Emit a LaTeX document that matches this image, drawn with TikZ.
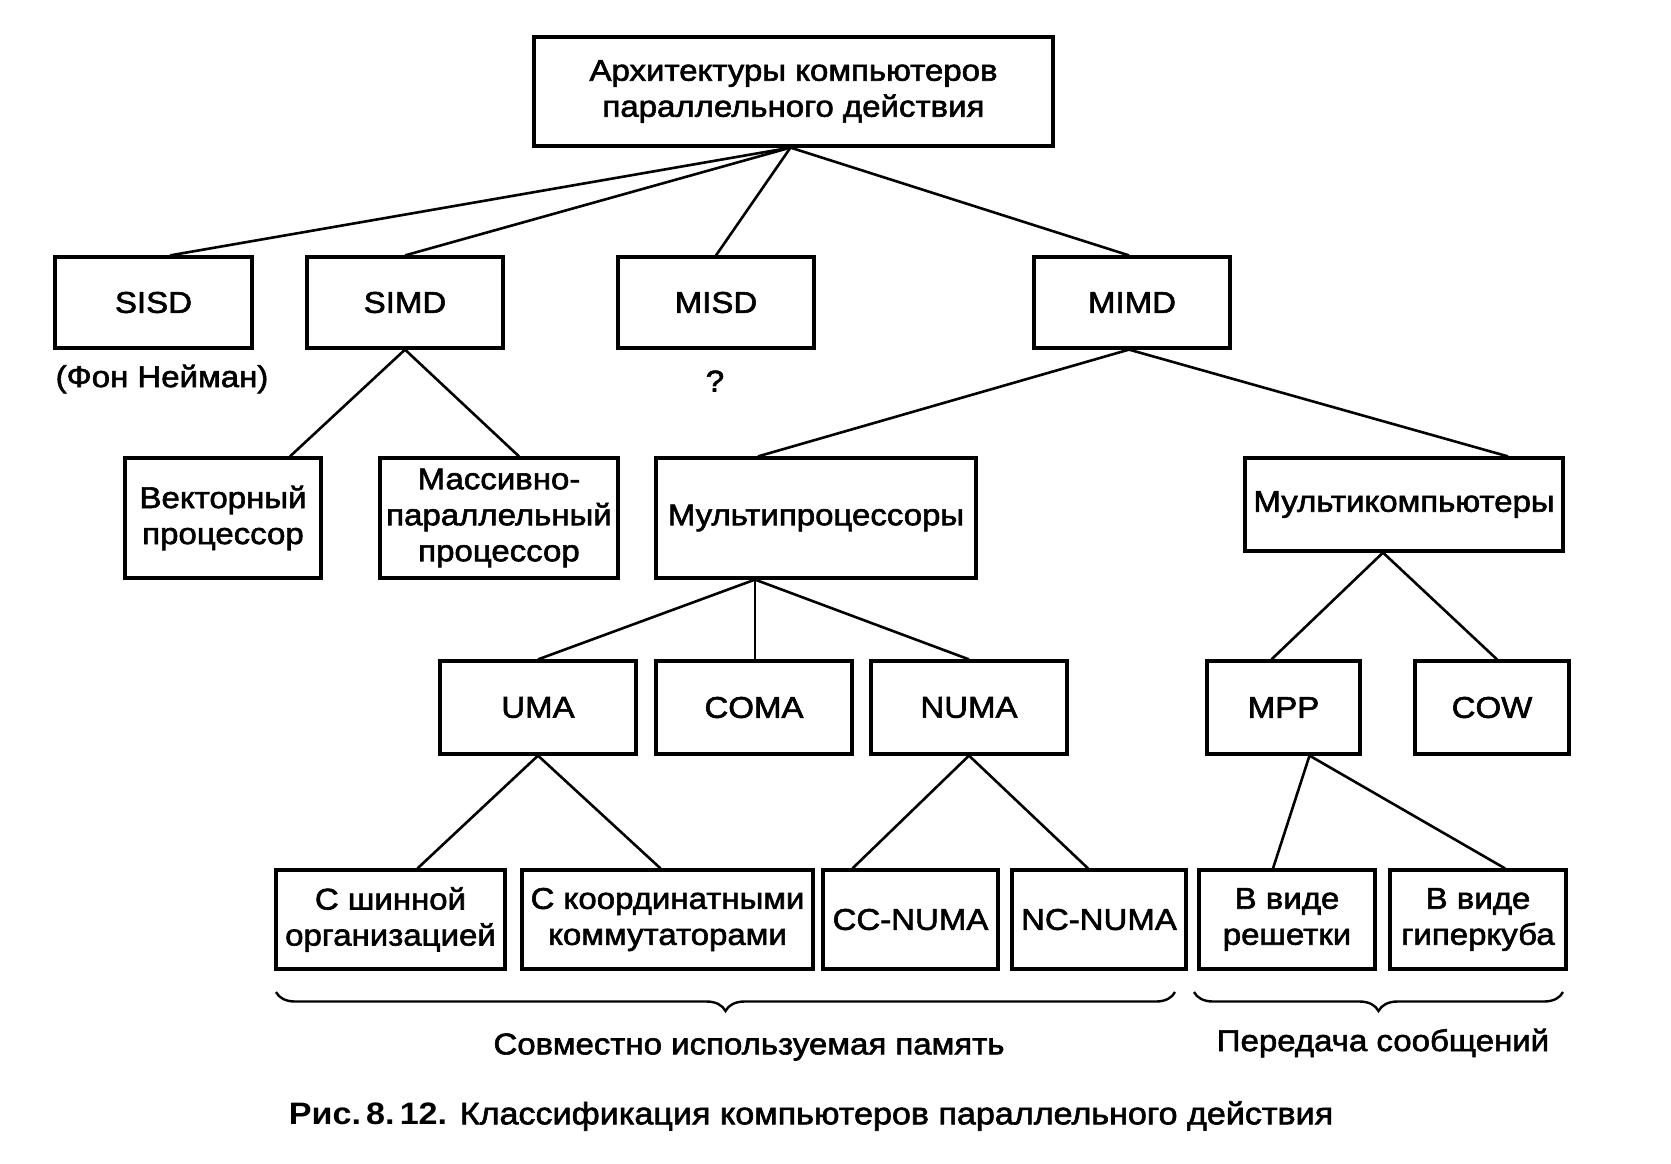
\documentclass[tikz,border=0pt]{standalone}
\usepackage{fontspec}
\setmainfont{Liberation Sans}[FakeStretch=1.1]
\newfontfamily\nodefont{Liberation Sans}[FakeStretch=1.1, FakeBold=2]
\usetikzlibrary{calc,decorations.pathreplacing}
\begin{document}
\begin{tikzpicture}[x=0.5pt,y=-0.5pt,
  box/.style={draw, line width=1.6pt, inner sep=0pt, align=center, font=\nodefont\fontsize{15}{18}\selectfont},
  sz/.style 2 args={minimum width=#1*0.5pt, minimum height=#2*0.5pt},
  conn/.style={line width=1.3pt},
  lbl/.style={inner sep=0pt, font=\nodefont\fontsize{15}{18}\selectfont},
  brc/.style={line width=1.2pt, decorate, decoration={brace, mirror, amplitude=9.5pt}}]
\useasboundingbox (0,0) rectangle (1671,1163);
% level 0
\node[box, sz={519}{109}] (top) at (793.5,91.5) {Архитектуры компьютеров\\параллельного действия};
% level 1
\node[box, sz={197}{91}] (sisd) at (153.5,302.5) {SISD};
\node[box, sz={196}{91}] (simd) at (405,302.5) {SIMD};
\node[box, sz={196}{91}] (misd) at (716,302.5) {MISD};
\node[box, sz={196}{91}] (mimd) at (1132,302.5) {MIMD};
\node[lbl] (fon) at (162,379) {(Фон Нейман)};
\node[lbl] (q) at (715,381) {?};
% level 2
\node[box, sz={196}{120}] (vect) at (223,518) {Векторный\\процессор};
\node[box, sz={238}{120}] (mass) at (499,518) {Массивно-\\параллельный\\процессор};
\node[box, sz={320}{120}] (mproc) at (816,518) {Мультипроцессоры};
\node[box, sz={318}{93}] (mcomp) at (1404,504.5) {Мультикомпьютеры};
% level 3
\node[box, sz={196}{93}] (uma) at (538,707.5) {UMA};
\node[box, sz={196}{93}] (coma) at (754,707.5) {COMA};
\node[box, sz={196}{93}] (numa) at (969,707.5) {NUMA};
\node[box, sz={153}{93}] (mpp) at (1283.5,707.5) {MPP};
\node[box, sz={154}{93}] (cow) at (1492,707.5) {COW};
% level 4
\node[box, sz={229}{99}] (bus) at (390.5,919.5) {С шинной\\организацией};
\node[box, sz={291}{99}] (xbar) at (667.5,919.5) {С координатными\\коммутаторами};
\node[box, sz={175}{99}] (ccnuma) at (910.5,919.5) {CC-NUMA};
\node[box, sz={174}{99}] (ncnuma) at (1099,919.5) {NC-NUMA};
\node[box, sz={176}{99}] (grid) at (1287,919.5) {В виде\\решетки};
\node[box, sz={176}{99}] (hcube) at (1478,919.5) {В виде\\гиперкуба};
% connectors
\coordinate (t0) at ($(top.south)+(-3,0)$);
\draw[conn] (t0) -- ($(sisd.north)+(16.5,0)$);
\draw[conn] (t0) -- (simd.north);
\draw[conn] (t0) -- (misd.north);
\draw[conn] (t0) -- ($(mimd.north)+(-3,0)$);
\draw[conn] (simd.south) -- ($(vect.north)+(67,0)$);
\draw[conn] (simd.south) -- ($(mass.north)+(20,0)$);
\coordinate (m0) at ($(mimd.south)+(-3,0)$);
\draw[conn] (m0) -- ($(mproc.north)+(-58,0)$);
\draw[conn] (m0) -- ($(mcomp.north)+(104,0)$);
\coordinate (p0) at ($(mproc.south)+(-61,0)$);
\draw[conn] (p0) -- (uma.north);
\draw[conn] (p0) -- ($(coma.north)+(1,0)$);
\draw[conn] (p0) -- (numa.north);
\coordinate (c0) at ($(mcomp.south)+(-21,0)$);
\draw[conn] (c0) -- ($(mpp.north)+(-12,0)$);
\draw[conn] (c0) -- ($(cow.north)+(5,0)$);
\draw[conn] (uma.south) -- ($(bus.north)+(27,0)$);
\draw[conn] (uma.south) -- ($(xbar.north)+(-7,0)$);
\draw[conn] (numa.south) -- ($(ccnuma.north)+(-58,0)$);
\draw[conn] (numa.south) -- ($(ncnuma.north)+(-11,0)$);
\coordinate (r0) at ($(mpp.south)+(26,0)$);
\draw[conn] (r0) -- ($(grid.north)+(-14,0)$);
\draw[conn] (r0) -- ($(hcube.north)+(27,0)$);
% braces
\coordinate (b1l) at (276,992);
\coordinate (b1r) at (1175,992);
\coordinate (b2l) at (1194,992);
\coordinate (b2r) at (1563,992);
\draw[brc] (b1l) -- (b1r);
\draw[brc] (b2l) -- (b2r);
\node[lbl] (shared) at (749,1047) {Совместно используемая память};
\node[lbl] (msg) at (1383,1043) {Передача сообщений};
% caption
\node[inner sep=0pt, font=\fontsize{15.5}{18}\selectfont] (cap) at (811,1116) {\textbf{Рис.\,8.\,12.} {\nodefont Классификация компьютеров параллельного действия}};
\end{tikzpicture}
\end{document}
